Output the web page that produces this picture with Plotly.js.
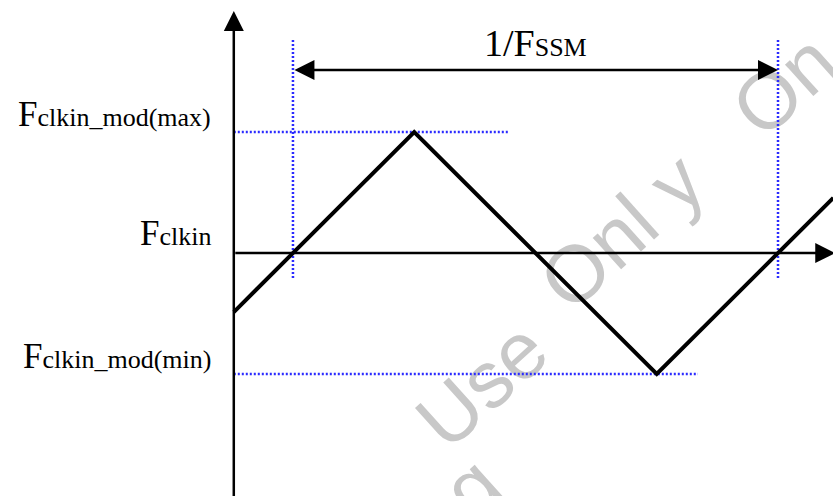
<!DOCTYPE html>
<html>
<head>
<meta charset="utf-8">
<script src="https://cdn.plot.ly/plotly-3.0.1.min.js"></script>
<style>
  html, body { margin: 0; padding: 0; background: #ffffff; }
  #chart { width: 833px; height: 496px; }
</style>
</head>
<body>
<div id="chart"></div>
<script>
// Spread-spectrum clock modulation: triangular sweep of the clock frequency
// around F_clkin, one modulation period = 1/F_SSM (time in periods).

// triangle wave vertices (time in modulation periods, frequency offset)
const waveTime = [-0.122, 0.25, 0.75, 1.114];
const waveFreq = [-0.488, 1, -1, 0.456];

// frequency levels and their labels
const levelValues = [1, 0, -1];
const levelNames = ['clkin_mod(max)', 'clkin', 'clkin_mod(min)'];
// where the dotted guide of each extreme level stops
const guideEnd = [0.443, null, 0.835];

// one modulation period, marked by dotted verticals
const periodStart = 0;
const periodEnd = 1;
const periodLabel = 'SSM';

// watermark pieces
const stampWords = ['g', 'Use', 'Onl y', 'On'];

// frame of the drawing
const originT = -0.122;
const xRange = [-0.604, 1.1134];
const yRange = [-2.008, 2.091];
const yTop = 2.0;
const xTip = 1.118;
const markTop = 1.76;
const markBottom = -0.21;
const spanLevel = 1.512;

const guideColor = '#2b2bff';
const guideDash = '2px,2px';
const serif = 'Liberation Serif, Times New Roman, serif';

const traces = [];

// dotted horizontal guides at the extremes
levelValues.forEach((v, i) => {
  if (guideEnd[i] === null) return;
  traces.push({
    x: [originT, guideEnd[i]], y: [v, v],
    mode: 'lines', hoverinfo: 'skip',
    line: { color: guideColor, width: 2.5, dash: guideDash }
  });
});

// dotted vertical period markers
[periodStart, periodEnd].forEach(t => {
  traces.push({
    x: [t, t], y: [markTop, markBottom],
    mode: 'lines', hoverinfo: 'skip',
    line: { color: guideColor, width: 2.5, dash: guideDash }
  });
});

// the triangular sweep
traces.push({
  x: waveTime, y: waveFreq,
  mode: 'lines', hoverinfo: 'skip',
  line: { color: '#000000', width: 4 }
});

// watermark, kept beneath everything
const stampPos = [[0.56, 0.03], [0.572, 0.236], [0.74, 0.545], [0.935, 0.84]];
const shapes = stampWords.map((w, i) => ({
  type: 'rect', layer: 'below', xref: 'paper', yref: 'paper',
  x0: stampPos[i][0] - 0.01, x1: stampPos[i][0] + 0.01,
  y0: stampPos[i][1] - 0.01, y1: stampPos[i][1] + 0.01,
  line: { width: 0 }, fillcolor: 'rgba(0,0,0,0)',
  label: {
    text: w, textangle: -42, textposition: 'middle center',
    font: { family: 'Liberation Sans, Arial, sans-serif', size: 80, color: '#c8c8c8' }
  }
}));

const annotations = [];

// frequency axis (vertical arrow)
annotations.push({
  x: originT, y: yTop, ax: originT, ay: -2.3,
  xref: 'x', yref: 'y', axref: 'x', ayref: 'y',
  text: '', showarrow: true, arrowhead: 2, arrowsize: 1.6, arrowwidth: 2.5,
  arrowcolor: '#000000', standoff: 0
});
// time axis along F_clkin
annotations.push({
  x: xTip, y: 0, ax: originT, ay: 0,
  xref: 'x', yref: 'y', axref: 'x', ayref: 'y',
  text: '', showarrow: true, arrowhead: 2, arrowsize: 1.6, arrowwidth: 2.5,
  arrowcolor: '#000000', standoff: 0
});
// period span arrow
annotations.push({
  x: periodEnd, y: spanLevel, ax: periodStart, ay: spanLevel,
  xref: 'x', yref: 'y', axref: 'x', ayref: 'y',
  text: '', showarrow: true, arrowside: 'end+start',
  arrowhead: 2, startarrowhead: 2, arrowsize: 1.6, startarrowsize: 1.6,
  arrowwidth: 2.5, arrowcolor: '#000000', standoff: 0, startstandoff: 0
});
annotations.push({
  x: (periodStart + periodEnd) / 2, y: spanLevel, xref: 'x', yref: 'y',
  text: '1/F<span style="font-size:26px">' + periodLabel + '</span>',
  showarrow: false, xanchor: 'center', yanchor: 'bottom', yshift: 4,
  font: { family: serif, size: 38, color: '#000000' }
});

// level labels left of the frequency axis
const labelShift = [-4, -2, -4];
levelValues.forEach((v, i) => {
  annotations.push({
    x: -0.165, y: v, xref: 'x', yref: 'y',
    text: 'F<span style="font-size:26px">' + levelNames[i] + '</span>',
    showarrow: false, xanchor: 'right', yanchor: 'bottom', yshift: labelShift[i],
    font: { family: serif, size: 35, color: '#000000' }
  });
});

const layout = {
  width: 833, height: 496,
  margin: { l: 0, r: 0, t: 0, b: 0 },
  paper_bgcolor: '#ffffff', plot_bgcolor: 'rgba(0,0,0,0)',
  showlegend: false,
  xaxis: { range: xRange, visible: false, fixedrange: true },
  yaxis: { range: yRange, visible: false, fixedrange: true },
  shapes: shapes,
  annotations: annotations
};

Plotly.newPlot('chart', traces, layout, { displayModeBar: false, staticPlot: true });
</script>
</body>
</html>
